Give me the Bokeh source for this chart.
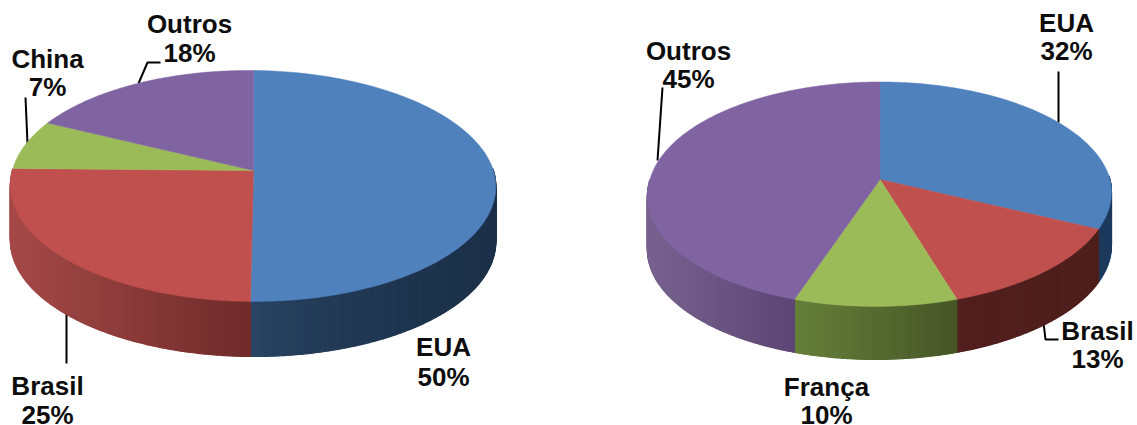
import math
from bokeh.core.properties import value
from bokeh.embed import file_html
from bokeh.models import ColumnDataSource, Range1d
from bokeh.plotting import figure
from bokeh.resources import INLINE

# Data
left_categories = ["EUA", "Brasil", "China", "Outros"]
left_values = [50, 25, 7, 18]
right_categories = ["EUA", "Brasil", "França", "Outros"]
right_values = [32, 13, 10, 45]

# Styles
LEFT_TOP = ["#4f81bd", "#c0504d", "#9bbb59", "#8064a2"]
LEFT_SIDE = [("#2b4869", "#1c3048", 0.5), ("#a54a48", "#6f2b2a", 1), ("#6a8038", "#5a6e30", 1), ("#5f4776", "#5f4776", 1)]
RIGHT_TOP = ["#4f81bd", "#c0504d", "#9bbb59", "#8064a2"]
RIGHT_SIDE = [("#1d3a5e", "#1d3a5e", 1), ("#511f1d", "#4e1f1c", 1), ("#66803a", "#465527", 1), ("#78628f", "#5d4675", 1)]

# Layout (reference pixels)
LEFT_GEOM = dict(ax=253, ay=170, sx=240.5, s=113.4, k=0.134, skew=-3.0, depth=55, roll=2)
RIGHT_GEOM = dict(ax=879.5, ay=179, sx=230, s=110.3, k=0.131, skew=-4.5, depth=53, roll=0)
LEFT_LABELS = [(443, 346, 376), (47, 385, 414), (47, 58, 86), (189, 23, 52)]
RIGHT_LABELS = [(1066, 22, 50), (1097, 330, 358), (826, 386, 414), (688, 50, 78)]
LEADERS = [
    ([138, 147, 160], [83, 62, 62]),
    ([25, 27], [97, 143]),
    ([66, 66], [309, 363]),
    ([662, 657], [87, 160]),
    ([1058, 1058], [71, 122]),
    ([1043, 1045, 1058], [322, 339, 339]),
]


def project(angle, g):
    """Perspective projection of a point on the pie's rim (angle clockwise from top)."""
    u, n = math.sin(angle), -math.cos(angle)
    d = 1 - g["k"] * n
    x = g["ax"] + g["sx"] * u / d + g["skew"] * max(n, 0)
    y = g["ay"] + g["s"] * n / d + g["roll"] * u
    return x, y


def lerp_hex(a, b, t):
    ca = [int(a[i:i + 2], 16) for i in (1, 3, 5)]
    cb = [int(b[i:i + 2], 16) for i in (1, 3, 5)]
    return "#%02x%02x%02x" % tuple(round(p + (q - p) * t) for p, q in zip(ca, cb))


def draw_pie(p, vals, top_colors, side_colors, g):
    total = sum(vals)
    edges = [0.0]
    for v in vals:
        edges.append(edges[-1] + v / total * 2 * math.pi)

    # Side wall, split into thin shaded strips
    xs, ys, cols = [], [], []
    vis_a, vis_b = math.radians(88), math.radians(270)
    for i in range(len(vals)):
        a0, a1 = max(edges[i], vis_a), min(edges[i + 1], vis_b)
        if a1 <= a0:
            continue
        steps = max(2, int(math.degrees(a1 - a0) * 2))
        angs = [a0 + (a1 - a0) * j / steps for j in range(steps + 1)]
        pts = [project(a, g) for a in angs]
        xmin, xmax = min(q[0] for q in pts), max(q[0] for q in pts)
        c0, c1, gamma = side_colors[i]
        for j in range(steps):
            (x0, y0), (x1, y1) = pts[j], pts[j + 1]
            frac = ((x0 + x1) / 2 - xmin) / max(xmax - xmin, 1)
            # strips run along the rim from right to left; keep the colour left-to-right
            xs.append([x0, x1, x1, x0])
            ys.append([y0, y1, y1 + g["depth"], y0 + g["depth"]])
            cols.append(lerp_hex(c0, c1, max(frac, 0) ** gamma))
    p.patches(xs, ys, fill_color=cols, line_color=cols, line_width=1.2)

    # Top face
    xs, ys = [], []
    for i in range(len(vals)):
        n = max(3, int(math.degrees(edges[i + 1] - edges[i])))
        rim = [project(edges[i] + (edges[i + 1] - edges[i]) * j / n, g) for j in range(n + 1)]
        xs.append([g["ax"]] + [q[0] for q in rim])
        ys.append([g["ay"]] + [q[1] for q in rim])
    p.patches(xs, ys, fill_color=top_colors, line_color=top_colors, line_width=0.5)


def draw_labels(p, cats, vals, places):
    px, py, txt = [], [], []
    for c, v, (x, y1, y2) in zip(cats, vals, places):
        px += [x, x]
        py += [y1, y2]
        txt += [c, f"{v}%"]
    src = ColumnDataSource(dict(x=px, y=py, t=txt))
    p.text("x", "y", text="t", source=src, text_font=value("Liberation Sans"),
           text_font_style="bold", text_font_size="26px", text_color="#0d0d0d",
           text_align="center", text_baseline="middle")


p = figure(width=1137, height=425, output_backend="svg", toolbar_location=None,
           x_range=Range1d(0, 1137), y_range=Range1d(425, 0),
           min_border=0, outline_line_color=None, background_fill_color="white",
           border_fill_color="white")
p.axis.visible = False
p.grid.visible = False

for lx, ly in LEADERS:
    p.line(lx, ly, line_color="black", line_width=2)

draw_pie(p, left_values, LEFT_TOP, LEFT_SIDE, LEFT_GEOM)
draw_pie(p, right_values, RIGHT_TOP, RIGHT_SIDE, RIGHT_GEOM)
draw_labels(p, left_categories, left_values, LEFT_LABELS)
draw_labels(p, right_categories, right_values, RIGHT_LABELS)

open("out.html", "w").write(file_html(p, INLINE))
